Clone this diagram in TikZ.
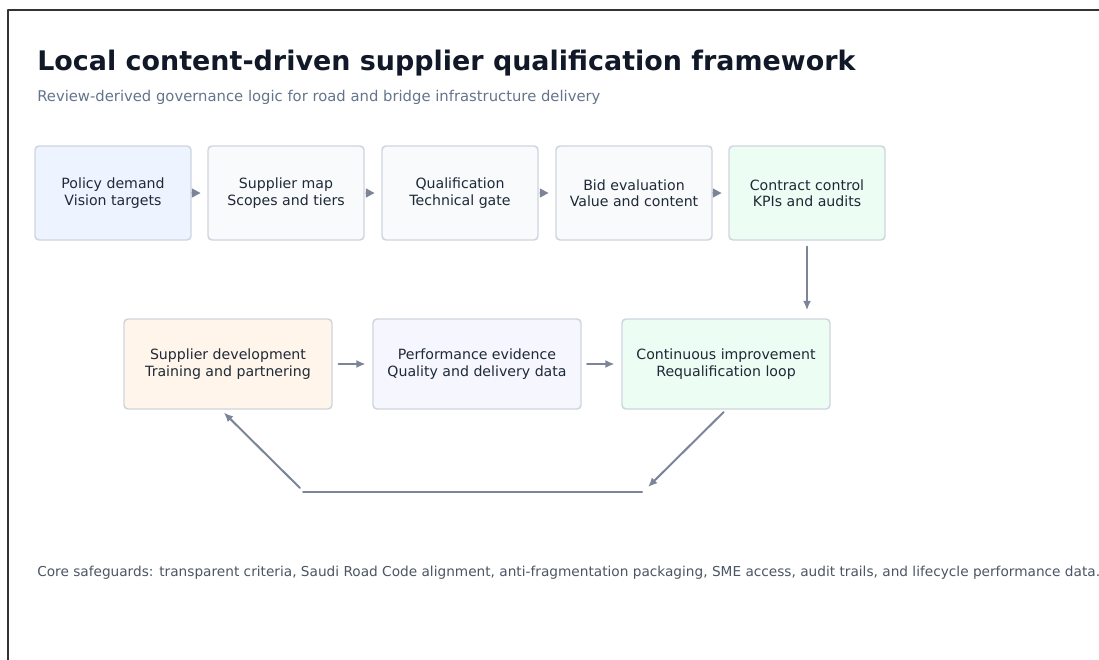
\documentclass[tikz,border=0pt]{standalone}
\usepackage{fontspec}
\setmainfont{DejaVu Sans}
\usetikzlibrary{arrows.meta,positioning}

\definecolor{titleink}{HTML}{111827}
\definecolor{subink}{HTML}{64748B}
\definecolor{noteink}{HTML}{4B5563}
\definecolor{boxink}{HTML}{1F2937}
\definecolor{boxline}{HTML}{CFD5DE}
\definecolor{flowgray}{HTML}{7B8597}
\definecolor{framegray}{HTML}{333333}
\definecolor{bluefill}{HTML}{EEF4FF}
\definecolor{grayfill}{HTML}{F8FAFC}
\definecolor{greenfill}{HTML}{ECFDF3}
\definecolor{orangefill}{HTML}{FFF5EB}
\definecolor{lilacfill}{HTML}{F5F6FE}

\begin{document}
\begin{tikzpicture}[x=0.75pt,y=-0.75pt,line cap=round,line join=round,
    box/.style={draw=boxline,line width=1.1pt,rounded corners=3pt,align=center,
        text=boxink,font=\fontsize{10.6}{12.2}\selectfont,
        minimum width=117pt,minimum height=70.5pt,inner sep=0pt},
    widebox/.style={box,minimum width=156pt,minimum height=67.5pt},
    tick/.style={draw=flowgray,line width=1.5pt,
        -{Triangle[length=6.5pt,width=6.5pt]},shorten <=1.5pt,shorten >=5pt},
    flow/.style={draw=flowgray,line width=1.5pt,
        -{Latex[length=7pt,width=6pt]}}]
    \useasboundingbox (0,0) rectangle (1099,660);

    % frame
    \draw[framegray,line width=1.1pt] (8,700) -- (8,10) -- (1150,10);

    % heading
    \node[anchor=base west,inner sep=0pt,text=titleink,
        font=\fontsize{20.2}{24}\selectfont\bfseries] (title) at (37,70)
        {Local content-driven supplier qualification framework};
    \node[anchor=base west,inner sep=0pt,text=subink,
        font=\fontsize{11.1}{13}\selectfont] (subtitle) at (37,101)
        {Review-derived governance logic for road and bridge infrastructure delivery};

    % top row
    \node[box,fill=bluefill] (policy) at (113,193) {Policy demand\\Vision targets};
    \node[box,fill=grayfill] (supmap) at (286,193) {Supplier map\\Scopes and tiers};
    \node[box,fill=grayfill] (qualif) at (460,193) {Qualification\\Technical gate};
    \node[box,fill=grayfill] (bideval) at (634,193) {Bid evaluation\\Value and content};
    \node[box,fill=greenfill] (contract) at (807,193) {Contract control\\KPIs and audits};

    \draw[tick] (policy) -- (supmap);
    \draw[tick] (supmap) -- (qualif);
    \draw[tick] (qualif) -- (bideval);
    \draw[tick] (bideval) -- (contract);

    % bottom row
    \node[widebox,fill=orangefill] (devel) at (228,364) {Supplier development\\Training and partnering};
    \node[widebox,fill=lilacfill] (evidence) at (477,364) {Performance evidence\\Quality and delivery data};
    \node[widebox,fill=greenfill] (improve) at (726,364) {Continuous improvement\\Requalification loop};

    \draw[flow,shorten <=4.5pt,shorten >=6pt] (contract.south) -- (contract.south |- improve.north);
    \draw[flow,shorten <=4.5pt,shorten >=5pt] (devel) -- (evidence);
    \draw[flow,shorten <=4pt,shorten >=5pt] (evidence) -- (improve);

    % feedback loop
    \coordinate (loopR) at (648,487);
    \coordinate (loopL) at (300,488);
    \coordinate (baseL) at (303,492);
    \coordinate (baseR) at (642,492);
    \draw[flow,shorten <=2.5pt] (improve.south) -- (loopR);
    \draw[flowgray,line width=1.5pt] (baseL) -- (baseR);
    \draw[flow,shorten >=3pt] (loopL) -- ([xshift=-5.25pt]devel.south);

    % note
    \node[anchor=base west,inner sep=0pt,text=noteink,
        font=\fontsize{10.26}{12}\selectfont] (note) at (37,576)
        {Core safeguards: transparent criteria, Saudi Road Code alignment, anti-fragmentation packaging, SME access, audit trails, and lifecycle performance data.};

\end{tikzpicture}
\end{document}
